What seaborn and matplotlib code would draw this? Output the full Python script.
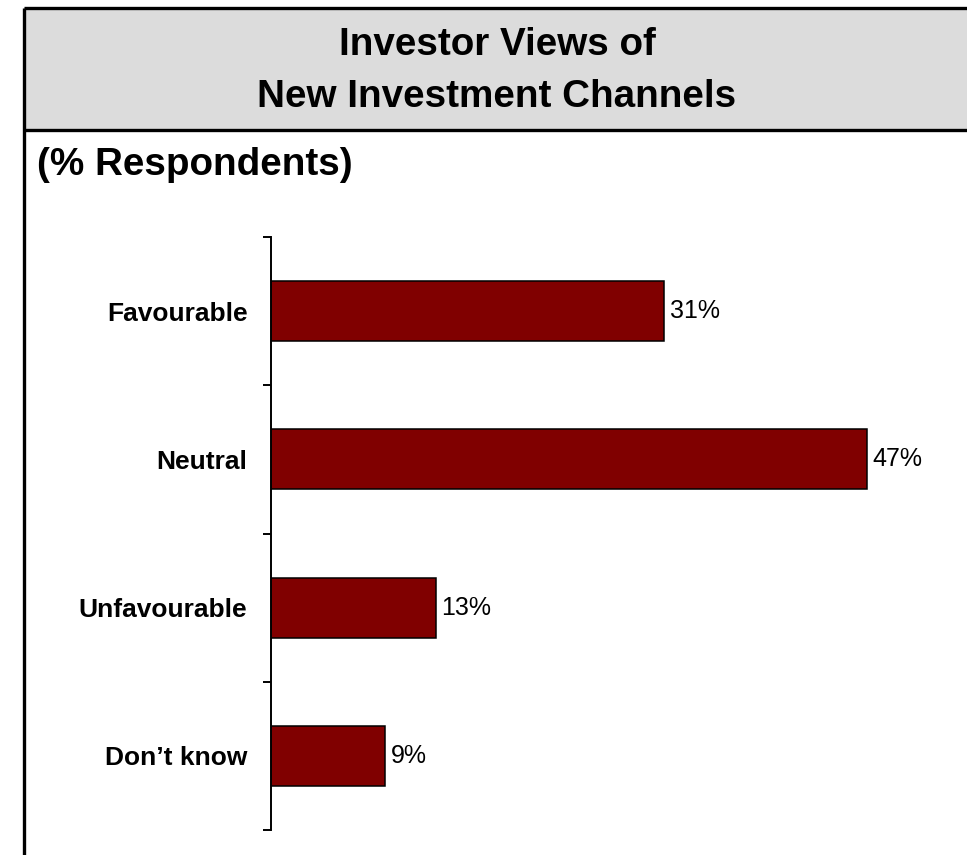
import matplotlib
matplotlib.use("Agg")
import matplotlib.pyplot as plt
import seaborn as sns
import pandas as pd
from matplotlib.patches import Rectangle
from matplotlib.lines import Line2D

# survey answers, % respondents
categories = ["Favourable", "Neutral", "Unfavourable", "Don\u2019t know"]
values = [31, 47, 13, 9]
value_labels = ["31%", "47%", "13%", "9%"]

title_line1 = "Investor Views of"
title_line2 = "New Investment Channels"
subtitle = "(% Respondents)"

sns.set_style("white")
plt.rcParams["font.family"] = ["Liberation Sans", "DejaVu Sans"]
plt.rcParams["text.color"] = "black"
plt.rcParams["ytick.color"] = "black"

W, H = 967, 855
fig = plt.figure(figsize=(W / 100, H / 100), dpi=100)

def fx(px):
    return px / W

def fy(py):
    return 1 - py / H

# header band and frame
fig.patches.append(Rectangle((fx(24), fy(130)), 1.0, fy(8) - fy(130),
                             transform=fig.transFigure, facecolor="#dcdcdc",
                             edgecolor="none", zorder=0))
for xs, ys in [([fx(24), 1.0], [fy(8), fy(8)]),
               ([fx(24), 1.0], [fy(130), fy(130)]),
               ([fx(24), fx(24)], [fy(8), 0.0])]:
    fig.lines.append(Line2D(xs, ys, transform=fig.transFigure, color="black",
                            linewidth=2.4, solid_capstyle="butt"))

fig.text(fx(497), fy(45), title_line1, ha="center", va="center",
         fontsize=27.8, fontweight="bold")
fig.text(fx(497), fy(97), title_line2, ha="center", va="center",
         fontsize=27.8, fontweight="bold")
fig.text(fx(37), fy(165), subtitle, ha="left", va="center",
         fontsize=27.8, fontweight="bold")

df = pd.DataFrame({"category": categories, "value": values})

ax = fig.add_axes([fx(271), fy(830), fx(905) - fx(271), fy(237) - fy(830)])
sns.barplot(data=df, x="value", y="category", orient="h", color="#800000",
            saturation=1, width=0.405, edgecolor="black", linewidth=1.1, ax=ax)

ax.set_xlim(0, 50)
ax.set_ylim(3.5, -0.5)
ax.set_xlabel("")
ax.set_ylabel("")
ax.set_xticks([])

for side in ["top", "right", "bottom"]:
    ax.spines[side].set_visible(False)
ax.spines["left"].set_linewidth(1.4)
ax.spines["left"].set_color("black")

ax.set_yticks(range(len(categories)))
ax.set_yticklabels(categories, fontsize=19, fontweight="bold")
ax.set_yticks([i - 0.5 for i in range(len(categories) + 1)], minor=True)
ax.tick_params(axis="y", which="major", left=True, length=0, pad=17)
ax.tick_params(axis="y", which="minor", left=True, length=6, width=1.4,
               color="black", direction="out")
ax.patch.set_alpha(0)

ax.bar_label(ax.containers[0], labels=value_labels, padding=4, fontsize=18)

fig.savefig("out.png", dpi=100)
